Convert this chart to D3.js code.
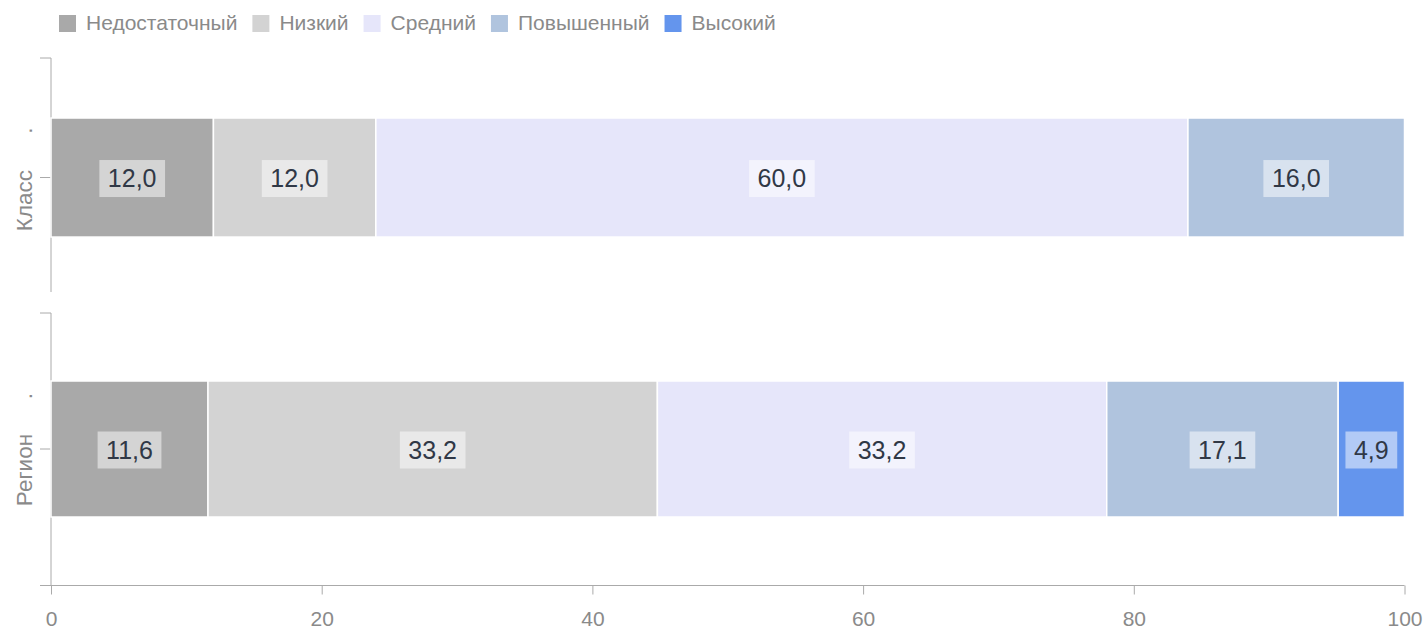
<!DOCTYPE html>
<html>
<head>
<meta charset="utf-8">
<script src="https://cdn.jsdelivr.net/npm/d3@7"></script>
<style>
  html, body { margin: 0; padding: 0; background: #fff; }
  svg { display: block; font-family: "Liberation Sans", Arial, sans-serif; }
</style>
</head>
<body>
<svg id="chart" width="1424" height="630"></svg>
<script>
// ---- data ----
const categories = ["Класс", "Регион"];
const levels = ["Недостаточный", "Низкий", "Средний", "Повышенный", "Высокий"];
const colors = ["#a9a9a9", "#d3d3d3", "#e6e6fa", "#b0c4de", "#6495ed"];
const klassValues = [12.0, 12.0, 60.0, 16.0, 0];
const regionValues = [11.6, 33.2, 33.2, 17.1, 4.9];
const xTicks = [0, 20, 40, 60, 80, 100];

const seriesByCategory = [klassValues, regionValues];

const svg = d3.select("#chart");
const axisColor = "#aaaaaa";
const textColor = "#8a8a8a";

const x = d3.scaleLinear().domain([0, 100]).range([51, 1404.5]);
const color = d3.scaleOrdinal().domain(levels).range(colors);

// panel layout
const panels = [
  { top: 58, bottom: 292, align: 0.522 },
  { top: 313, bottom: 585, align: 0.5 }
];

// ---- legend ----
const legend = svg.append("g");
let lx = 59;
levels.forEach((lev, i) => {
  const g = legend.append("g");
  g.append("rect").attr("x", lx).attr("y", 15).attr("width", 17).attr("height", 17)
    .attr("fill", color(lev));
  const t = g.append("text").attr("x", lx + 27).attr("y", 30)
    .attr("font-size", 21).attr("fill", textColor).text(lev);
  const w = t.node().getComputedTextLength();
  lx = lx + 27 + w + 15;
});

// ---- panels ----
categories.forEach((cat, ci) => {
  const p = panels[ci];
  const y = d3.scaleBand().domain([cat]).range([p.top, p.bottom])
    .paddingInner(0).paddingOuter(ci === 0 ? 0.483 : 0.5).align(p.align);

  // y axis
  const ax = svg.append("g").attr("transform", "translate(51,0)")
    .call(d3.axisLeft(y).tickSize(11).tickSizeOuter(0).tickFormat(""));
  ax.select(".domain").remove();
  ax.selectAll("line").attr("stroke", axisColor);
  svg.append("line").attr("x1", 51).attr("x2", 51)
    .attr("y1", p.top).attr("y2", p.bottom).attr("stroke", axisColor);
  svg.append("line").attr("x1", 40).attr("x2", 51)
    .attr("y1", p.top).attr("y2", p.top).attr("stroke", axisColor);

  // category label (rotated)
  const cy = y(cat) + y.bandwidth() / 2;
  svg.append("text")
    .attr("transform", `translate(31.5,${cy + (ci === 0 ? 23 : 21)}) rotate(-90)`)
    .attr("text-anchor", "middle").attr("font-size", 22.5).attr("fill", textColor)
    .text(cat);
  svg.append("text")
    .attr("transform", `translate(31.5,${cy - (ci === 0 ? 47 : 53)}) rotate(-90)`)
    .attr("text-anchor", "middle").attr("font-size", 22.5).attr("fill", textColor)
    .text(".");

  // stacked bars
  const vals = seriesByCategory[ci];
  let acc = 0;
  const segs = vals.map((v, i) => {
    const s = { level: levels[i], x0: acc, x1: acc + v, v };
    acc += v;
    return s;
  }).filter(s => s.v > 0);

  const g = svg.append("g");
  g.selectAll("rect").data(segs).join("rect")
    .attr("x", d => x(d.x0))
    .attr("width", d => x(d.x1) - x(d.x0))
    .attr("y", y(cat))
    .attr("height", y.bandwidth())
    .attr("fill", d => color(d.level))
    .attr("stroke", "#ffffff").attr("stroke-width", 1.5);

  // labels with boxes
  segs.forEach(d => {
    const mx = (x(d.x0) + x(d.x1)) / 2;
    const lg = g.append("g");
    const t = lg.append("text").attr("x", mx).attr("y", cy + 9.5)
      .attr("text-anchor", "middle").attr("font-size", 25).attr("fill", "#303846")
      .text(d3.format(".1f")(d.v).replace(".", ","));
    const w = t.node().getComputedTextLength();
    lg.insert("rect", "text")
      .attr("x", mx - w / 2 - 8.5).attr("y", cy - 17.5)
      .attr("width", w + 17).attr("height", 37)
      .attr("fill", "#ffffff").attr("fill-opacity", 0.5);
  });
});

// ---- x axis ----
const xa = svg.append("g").attr("transform", "translate(0,585.5)")
  .call(d3.axisBottom(x).tickValues(xTicks).tickSize(9).tickSizeOuter(0).tickPadding(17)
    .tickFormat(d3.format("d")));
xa.select(".domain").remove();
xa.selectAll("line").attr("stroke", axisColor);
xa.selectAll("text").attr("font-size", 21).attr("fill", textColor)
  .attr("font-family", "Liberation Sans, Arial, sans-serif");
svg.append("line").attr("x1", 40).attr("x2", 1404.5).attr("y1", 585.5).attr("y2", 585.5)
  .attr("stroke", axisColor);
</script>
</body>
</html>
